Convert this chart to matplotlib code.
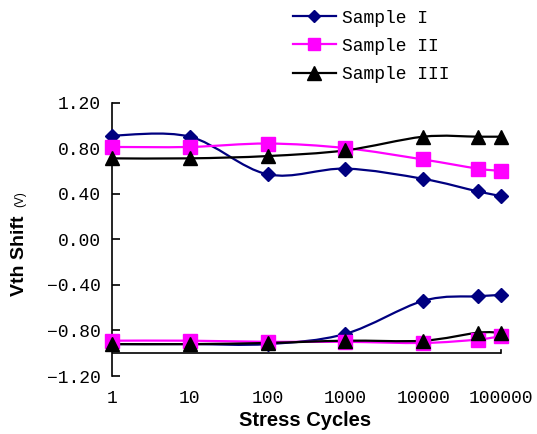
import numpy as np
import matplotlib
matplotlib.use('Agg')
import matplotlib.pyplot as plt
from matplotlib.path import Path
from matplotlib.patches import PathPatch
from matplotlib.lines import Line2D

# stress cycles (x) and Vth shift values
cycles = [1, 10, 100, 1000, 10000, 50000, 100000]

s1_up = [0.91, 0.90, 0.57, 0.62, 0.53, 0.42, 0.38]
s1_lo = [-0.92, -0.92, -0.92, -0.83, -0.54, -0.50, -0.49]
s2_up = [0.81, 0.81, 0.84, 0.80, 0.70, 0.62, 0.60]
s2_lo = [-0.89, -0.89, -0.90, -0.90, -0.91, -0.88, -0.85]
s3_up = [0.71, 0.71, 0.73, 0.78, 0.90, 0.90, 0.90]
s3_lo = [-0.92, -0.92, -0.91, -0.89, -0.89, -0.82, -0.82]

labels = ['Sample I', 'Sample II', 'Sample III']
colors = ['#000080', '#FF00FF', '#000000']
markers = ['D', 's', '^']
msizes = [7, 9.5, 10.5]
yticks = [-1.2, -0.8, -0.4, 0.0, 0.4, 0.8, 1.2]
xticks = [1, 10, 100, 1000, 10000, 100000]

mono = 'Liberation Mono'
sans = 'Liberation Sans'


def smooth_path(xs, ys):
    # Excel-style smoothed line: cubic bezier, control points from neighbours (in log-x space)
    u = np.log10(np.array(xs, dtype=float))
    y = np.array(ys, dtype=float)
    n = len(u)
    verts = [(xs[0], y[0])]
    codes = [Path.MOVETO]
    for i in range(n - 1):
        i0 = max(i - 1, 0)
        i3 = min(i + 2, n - 1)
        c1 = (u[i] + (u[i + 1] - u[i0]) / 6, y[i] + (y[i + 1] - y[i0]) / 6)
        c2 = (u[i + 1] - (u[i3] - u[i]) / 6, y[i + 1] - (y[i3] - y[i]) / 6)
        verts += [(10 ** c1[0], c1[1]), (10 ** c2[0], c2[1]), (xs[i + 1], y[i + 1])]
        codes += [Path.CURVE4] * 3
    return Path(verts, codes)


fig = plt.figure(figsize=(5.37, 4.34), dpi=100)
ax = fig.add_axes([0.2086, 0.1336, 0.7244, 0.6302])
ax.set_xscale('log')
ax.set_xlim(1, 100000)
ax.set_ylim(-1.2, 1.2)

series = [(s1_up, s1_lo), (s2_up, s2_lo), (s3_up, s3_lo)]
handles = []
for (up, lo), c, m, ms, lab in zip(series, colors, markers, msizes, labels):
    for ys in (up, lo):
        ax.add_patch(PathPatch(smooth_path(cycles, ys), fill=False, edgecolor=c,
                               lw=1.6, zorder=2))
        ax.plot(cycles, ys, ls='none', marker=m, ms=ms, color=c, mec=c, zorder=3,
                clip_on=False)
    handles.append(Line2D([], [], color=c, lw=1.6, marker=m, ms=ms * 0.9, mec=c))

# x axis line sits at -1.0
ax.axhline(-1.0, color='black', lw=1.2, zorder=1)
ax.plot([100000, 100000], [-1.0, -0.975], color='black', lw=1.2, clip_on=False)

for s in ['top', 'right', 'bottom']:
    ax.spines[s].set_visible(False)
ax.spines['left'].set_linewidth(1.2)

ax.set_yticks(yticks)
ax.set_yticklabels(['%.2f' % v if v >= 0 else '\u2212%.2f' % abs(v) for v in yticks])
ax.set_xticks(xticks)
ax.set_xticklabels([str(v) for v in xticks])
ax.minorticks_off()
ax.tick_params(axis='y', direction='in', length=6, width=1.2, pad=8)
ax.tick_params(axis='x', length=0, pad=10)
for t in ax.get_xticklabels() + ax.get_yticklabels():
    t.set_fontfamily(mono)
    t.set_fontsize(13)

fig.text(0.568, 0.030, 'Stress Cycles', fontsize=14.5, fontweight='bold',
         family=sans, ha='center', va='center')
fig.text(0.037, 0.410, 'Vth Shift', fontsize=14, fontweight='bold', family=sans,
         rotation=90, ha='center', va='center')
fig.text(0.037, 0.541, '(V)', fontsize=8.5, family=sans, rotation=90,
         ha='center', va='center')

leg = fig.legend(handles, labels, loc='upper left', bbox_to_anchor=(0.545, 0.978),
                 frameon=False, prop={'family': mono, 'size': 13}, handlelength=2.4,
                 handletextpad=0.35, labelspacing=0.62, borderpad=0, borderaxespad=0,
                 numpoints=1)

fig.savefig('out.png', dpi=100)
